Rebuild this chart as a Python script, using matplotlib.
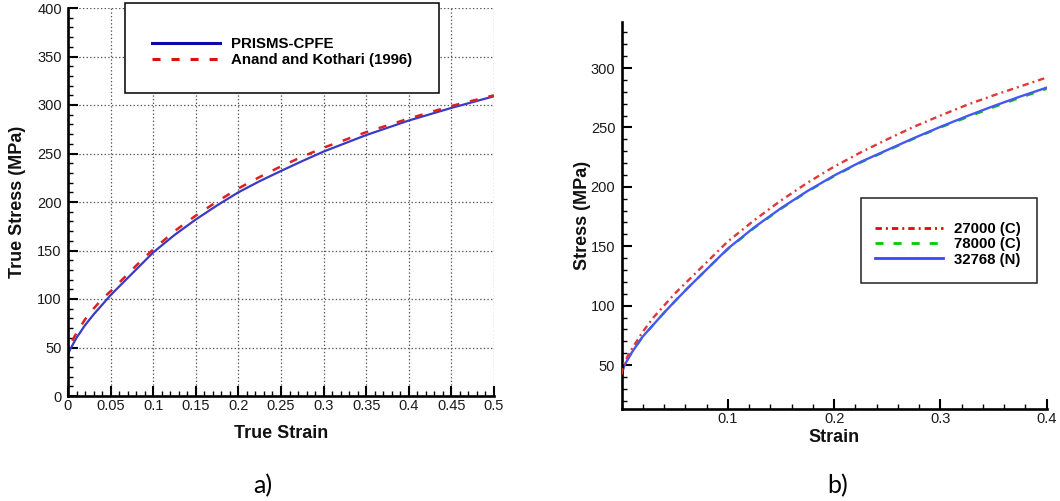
import matplotlib
matplotlib.use("Agg")
import matplotlib.pyplot as plt
from matplotlib.patches import Rectangle
from matplotlib.ticker import FixedLocator, MultipleLocator

plt.rcParams["font.family"] = ["Liberation Sans", "DejaVu Sans"]
plt.rcParams["lines.scale_dashes"] = False

# ---------------- panel a) : PRISMS-CPFE vs. Anand and Kothari ----------------
strain_a = [0.0, 0.0025, 0.005, 0.01, 0.02, 0.03, 0.04, 0.05, 0.0625, 0.075,
            0.0875, 0.1, 0.125, 0.15, 0.175, 0.2, 0.225, 0.25, 0.275, 0.3,
            0.35, 0.4, 0.45, 0.5]
stress_cpfe = [43, 48, 52, 60, 73, 84, 94, 104, 115, 126,
               137, 148, 166, 182, 196.5, 210, 221.5, 232, 242.2, 252,
               269, 284, 297, 309]

strain_ak = [0.005, 0.01, 0.02, 0.03, 0.04, 0.05, 0.0625, 0.075, 0.0875, 0.1,
             0.125, 0.15, 0.175, 0.2, 0.225, 0.25, 0.275, 0.3, 0.35, 0.4,
             0.45, 0.5]
stress_ak = [57, 65, 79, 90, 100, 108, 119, 130, 141, 151,
             170, 186, 200.5, 214, 225.8, 236.8, 246.7, 256, 272, 286,
             299, 310]

xticks_a = [0, 0.05, 0.1, 0.15, 0.2, 0.25, 0.3, 0.35, 0.4, 0.45, 0.5]
xticklabels_a = ["0", "0.05", "0.1", "0.15", "0.2", "0.25", "0.3", "0.35",
                 "0.4", "0.45", "0.5"]
yticks_a = [0, 50, 100, 150, 200, 250, 300, 350, 400]
labels_a = ["PRISMS-CPFE", "Anand and Kothari (1996)"]

# ---------------- panel b) : mesh comparison ----------------
strain_b = [0.0, 0.001, 0.003, 0.006, 0.01, 0.02, 0.03, 0.04, 0.05, 0.0625,
            0.075, 0.0875, 0.1, 0.125, 0.15, 0.175, 0.2, 0.225, 0.25, 0.275,
            0.3, 0.325, 0.35, 0.375, 0.4]
stress_27000c = [42, 47, 52, 58, 64, 78, 90, 100, 110, 121,
                 132, 143, 154, 172, 188.5, 203.5, 217, 229, 240, 250.5,
                 260, 269, 277, 284.5, 292]
stress_78000c = [40, 45, 50, 55, 61, 74, 84, 94, 103.5, 115,
                 126, 137, 147.5, 165.5, 181.5, 196, 209, 220.5, 230.5, 240.5,
                 250, 258.5, 267, 275, 282.5]
stress_32768n = [39, 45, 50, 55, 61, 74, 84, 94, 103.5, 115,
                 126, 137, 148, 166, 182, 196.5, 209.5, 221, 231, 241,
                 250.5, 259.5, 268, 276, 283.5]

xticks_b = [0.1, 0.2, 0.3, 0.4]
xticklabels_b = ["0.1", "0.2", "0.3", "0.4"]
yticks_b = [50, 100, 150, 200, 250, 300]
labels_b = ["27000 (C)", "78000 (C)", "32768 (N)"]

W, H = 1060, 501
fig = plt.figure(figsize=(W / 100, H / 100), dpi=100)


def fx(px):
    return px / W


def fy(py):
    return 1 - py / H


tick_font = 10.5
label_font = 13
legend_prop = {"family": "Liberation Sans", "weight": "bold", "size": 10.8}


def style_axes(ax):
    for side in ("top", "right"):
        ax.spines[side].set_visible(False)
    for side in ("left", "bottom"):
        ax.spines[side].set_linewidth(1.9)
        ax.spines[side].set_color("black")
    ax.tick_params(which="both", direction="in", top=False, right=False,
                   colors="black", labelcolor="#1a1a1a", labelsize=tick_font)
    ax.tick_params(which="major", length=7.2, width=1.5)
    ax.tick_params(which="minor", length=3.8, width=1.0)
    ax.tick_params(axis="y", which="major", pad=4.5)
    ax.tick_params(axis="x", which="major", pad=2.4)


# ---------------- axes a ----------------
ax1 = fig.add_axes([fx(68), fy(396), fx(494) - fx(68), fy(8) - fy(396)])
ax1.plot(strain_a, stress_cpfe, color="#3a3ac4", lw=1.6, label=labels_a[0],
         zorder=2)
ax1.plot(strain_ak, stress_ak, color="#dd2020", lw=1.8, dashes=(5.8, 7.9),
         label=labels_a[1], zorder=3)
ax1.set_xlim(0, 0.5)
ax1.set_ylim(0, 400)
ax1.xaxis.set_major_locator(FixedLocator(xticks_a))
ax1.set_xticklabels(xticklabels_a)
ax1.xaxis.set_minor_locator(MultipleLocator(0.01))
ax1.yaxis.set_major_locator(FixedLocator(yticks_a))
ax1.set_yticklabels([str(v) for v in yticks_a])
ax1.yaxis.set_minor_locator(MultipleLocator(10))
style_axes(ax1)
ax1.grid(True, which="major", color="#555555", lw=0.9,
         linestyle=(0, (1.0, 1.6)))
ax1.set_xlabel("True Strain", fontsize=label_font, fontweight="bold",
               va="center", color="#111111")
ax1.xaxis.set_label_coords(0.5, -(433 - 396) / 388)
ax1.set_ylabel("True Stress (MPa)", fontsize=label_font, fontweight="bold",
               va="center", color="#111111")
ax1.yaxis.set_label_coords((18 - 68) / 426, 0.5)

ax1.add_patch(Rectangle((fx(125), fy(93)), fx(439) - fx(125), fy(3) - fy(93),
                        transform=fig.transFigure, facecolor="white",
                        edgecolor="black", lw=1.1, zorder=4, clip_on=False))
leg1 = ax1.legend(loc="center left", bbox_to_anchor=(fx(152), fy(52)),
                  bbox_transform=fig.transFigure, frameon=False, borderpad=0,
                  borderaxespad=0, handlelength=68 / 15.0,
                  handletextpad=11 / 15.0, labelspacing=0.12, prop=legend_prop)
leg1.set_zorder(5)
for h, c in zip(leg1.get_lines(), ["#0a0aa8", "#dd1010"]):
    h.set_linewidth(2.2)
    h.set_color(c)

# ---------------- axes b ----------------
ax2 = fig.add_axes([fx(621.5), fy(409), fx(1046.7) - fx(621.5),
                    fy(21.7) - fy(409)])
ax2.plot(strain_b, stress_27000c, color="#e03838", lw=1.7,
         dashes=(4.6, 2.9, 1.4, 2.9), label=labels_b[0], zorder=3)
ax2.plot(strain_b, stress_78000c, color="#10c010", lw=1.7, dashes=(5.8, 7.2),
         label=labels_b[1], zorder=2)
ax2.plot(strain_b, stress_32768n, color="#4458f0", lw=1.7, label=labels_b[2],
         zorder=2.5)
ax2.set_xlim(0, 0.4)
ax2.set_ylim(13, 339)
ax2.xaxis.set_major_locator(FixedLocator(xticks_b))
ax2.set_xticklabels(xticklabels_b)
ax2.xaxis.set_minor_locator(MultipleLocator(0.02))
ax2.yaxis.set_major_locator(FixedLocator(yticks_b))
ax2.set_yticklabels([str(v) for v in yticks_b])
ax2.yaxis.set_minor_locator(MultipleLocator(10))
style_axes(ax2)
ax2.set_xlabel("Strain", fontsize=label_font, fontweight="bold", va="center",
               color="#111111")
ax2.xaxis.set_label_coords(0.5, -(437 - 409) / 387.3)
ax2.set_ylabel("Stress (MPa)", fontsize=label_font, fontweight="bold",
               va="center", color="#111111")
ax2.yaxis.set_label_coords((582.5 - 621.5) / 425.2, 0.5)

ax2.add_patch(Rectangle((fx(860.7), fy(283.3)), fx(1037.3) - fx(860.7),
                        fy(197.7) - fy(283.3), transform=fig.transFigure,
                        facecolor="white", edgecolor="#222222", lw=1.1,
                        zorder=4, clip_on=False))
leg2 = ax2.legend(loc="center left", bbox_to_anchor=(fx(875), fy(244.4)),
                  bbox_transform=fig.transFigure, frameon=False, borderpad=0,
                  borderaxespad=0, handlelength=68 / 15.0,
                  handletextpad=11 / 15.0, labelspacing=0.08, prop=legend_prop)
leg2.set_zorder(5)
for h, c in zip(leg2.get_lines(), ["#dd0a0a", "#00cc00", "#3548ff"]):
    h.set_linewidth(2.0)
    h.set_color(c)

# ---------------- panel captions ----------------
fig.text(fx(263), fy(486), "a)", fontsize=18, family=["Lato", "DejaVu Sans"],
         ha="center", va="center", color="black")
fig.text(fx(838), fy(486), "b)", fontsize=18, family=["Lato", "DejaVu Sans"],
         ha="center", va="center", color="black")

fig.savefig("out.png", dpi=100, facecolor="white")
